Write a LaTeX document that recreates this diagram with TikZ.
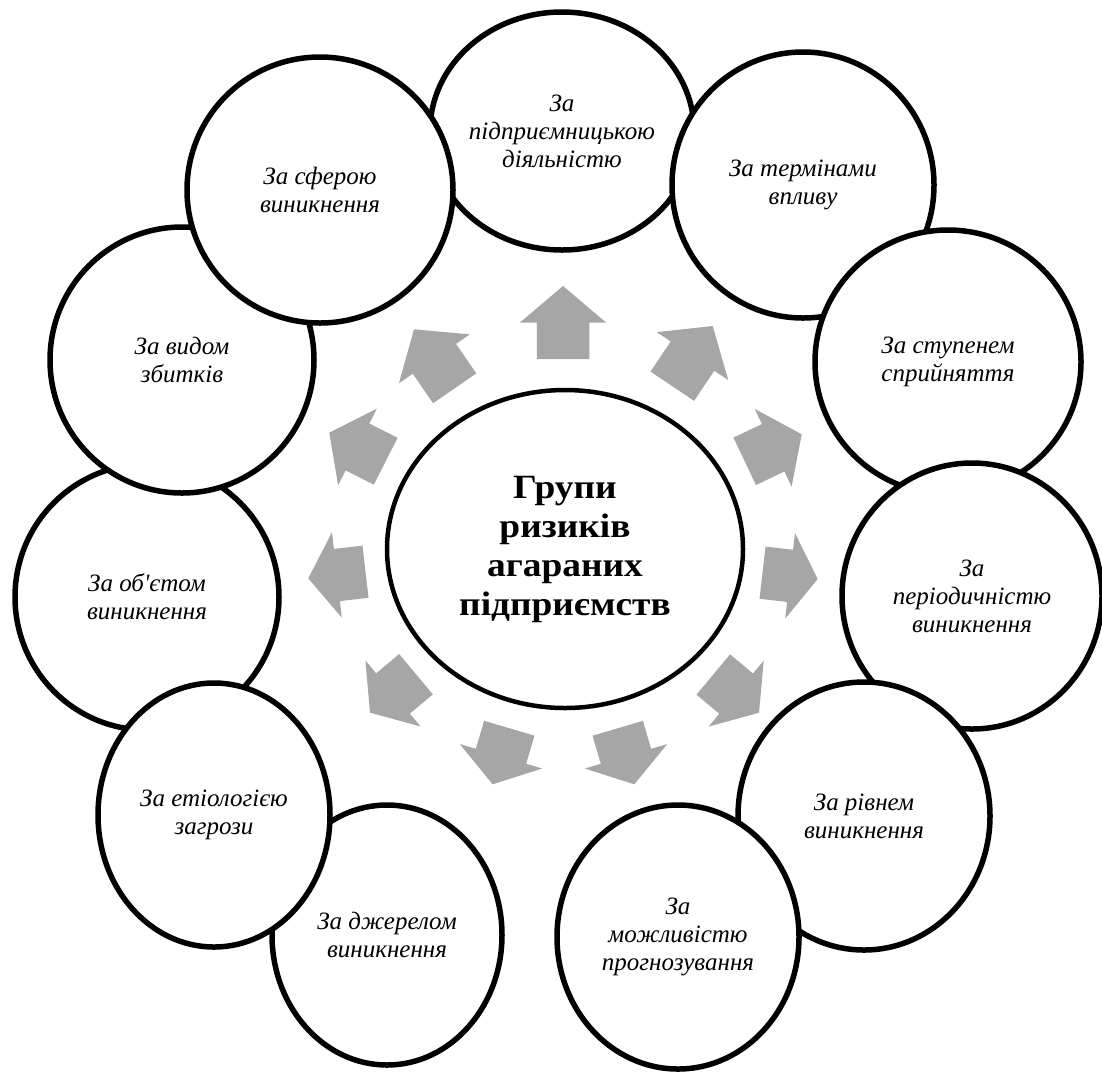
\documentclass[tikz,border=0pt]{standalone}
\usepackage{fontspec}
\setmainfont{Liberation Serif}
\newfontfamily\plainserif{Liberation Serif}
\newfontfamily\hubfont{Liberation Serif}[FakeStretch=1.1]
\usetikzlibrary{calc,shapes.geometric}
\definecolor{arrowgray}{RGB}{166,166,166}
\newcommand\radarrow[2]{%
  \coordinate (hb) at ($(#1)!0.5!(#2)$);
  \fill[arrowgray] ($(#1)!26.25pt!90:(#2)$) -- ($(hb)!26.25pt!90:(#2)$) -- ($(hb)!43pt!90:(#2)$) -- (#2)
    -- ($(hb)!43pt!-90:(#2)$) -- ($(hb)!26.25pt!-90:(#2)$) -- ($(#1)!26.25pt!-90:(#2)$) -- cycle;
}
\begin{document}
\begin{tikzpicture}[x=1pt,y=-1pt,
  bubble/.style={ellipse, draw, line width=5.5pt, fill=white, inner sep=0pt, align=center,
    font=\itshape\fontsize{25}{28}\selectfont},
  hub/.style={ellipse, draw, line width=4.5pt, fill=white, inner sep=0pt, align=center,
    font=\hubfont\bfseries\fontsize{34}{39}\selectfont}]
\useasboundingbox[fill=white] (0,0) rectangle (1102,1072);

% outer circles (drawing order gives the overlaps)
\node[bubble, minimum width=264pt, minimum height=238pt] (c1) at (562,131) {За\\підприємницькою\\діяльністю};
\node[bubble, minimum width=262pt, minimum height=266pt] (c2) at (803,185) {За термінами\\впливу};
\node[bubble, minimum width=266pt, minimum height=264pt] (c3) at (948,362) {За ступенем\\сприйняття};
\node[bubble, minimum width=260pt, minimum height=266pt] (c4) at (972,596) {За\\періодичністю\\виникнення};
\node[bubble, minimum width=252pt, minimum height=268pt] (c5) at (864,816) {За рівнем\\виникнення};
\node[bubble, minimum width=242pt, minimum height=264pt] (c6) at (678,937) {За\\можливістю\\прогнозування};
\node[bubble, minimum width=230pt, minimum height=260pt] (c7) at (387,935) {За джерелом\\виникнення};
\node[bubble, minimum width=264pt, minimum height=266pt] (c9) at (147,597) {За об{\plainserif\itshape '}єтом\\виникнення};
\node[bubble, minimum width=232pt, minimum height=264pt] (c8) at (214,815) {За етіологією\\загрози};
\node[bubble, minimum width=264pt, minimum height=266pt] (c10) at (182,360) {За видом\\збитків};
\node[bubble, minimum width=266pt, minimum height=266pt] (c11) at (320,190) {За сферою\\виникнення};

% centre
\node[hub, minimum width=356pt, minimum height=318pt] (hub) at (565,549) {Групи\\ризиків\\агараних\\підприємств};

% arrows: tail, tip
\coordinate (a1s) at (563,359);     \coordinate (a1t) at (563,286);
\coordinate (a2s) at (672.3,386.2); \coordinate (a2t) at (712.7,326);
\coordinate (a3s) at (744.7,461.3); \coordinate (a3t) at (801.7,434.3);
\coordinate (a4s) at (762.5,572.7); \coordinate (a4t) at (817.7,579);
\coordinate (a5s) at (713.3,674.5); \coordinate (a5t) at (759,712.7);
\coordinate (a6s) at (617.7,728.3); \coordinate (a6t) at (634.3,784.3);
\coordinate (a7s) at (509.3,728.2); \coordinate (a7t) at (492.7,784.3);
\coordinate (a8s) at (416,674.2);   \coordinate (a8t) at (370,712.7);
\coordinate (a9s) at (365.5,571.7); \coordinate (a9t) at (308.3,578.3);
\coordinate (a10s) at (385.7,461.2); \coordinate (a10t) at (329.3,432.7);
\coordinate (a11s) at (454.7,388.3); \coordinate (a11t) at (414,329.3);
\foreach \i in {1,...,11} {\radarrow{a\i s}{a\i t}}
\end{tikzpicture}
\end{document}
